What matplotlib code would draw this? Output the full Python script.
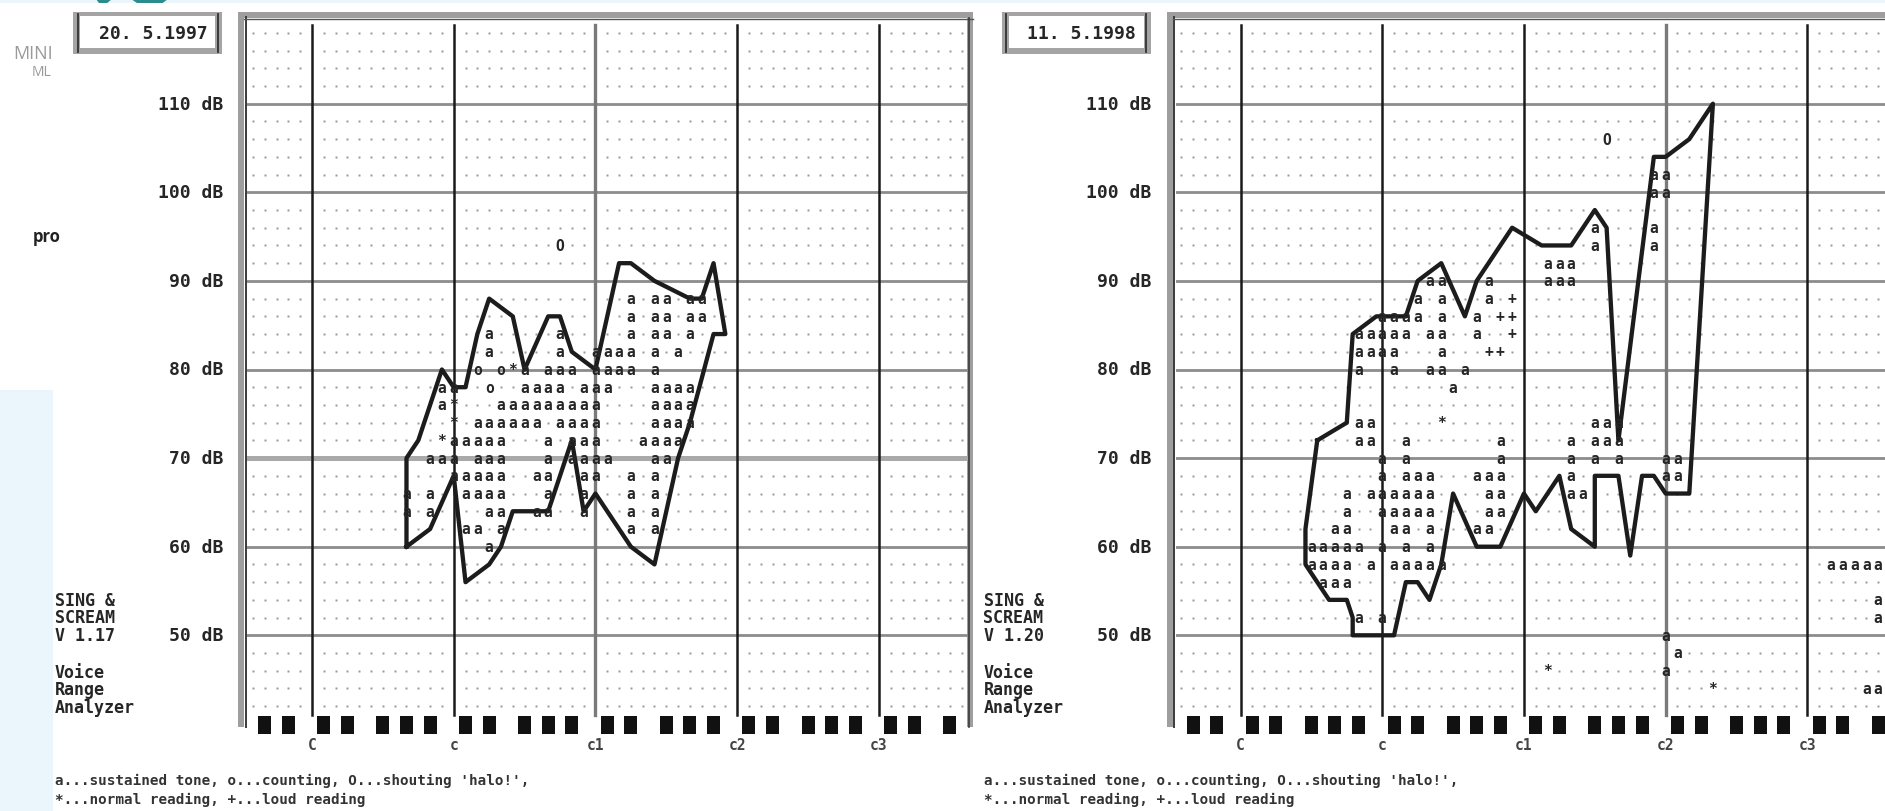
import math

import matplotlib
matplotlib.use("Agg")
from matplotlib import pyplot as plt
from matplotlib.patches import Rectangle, Polygon

W, H = 1885, 812
DPI = 100

# screen scale of the phonetogram screenshots (pixels)
PX_SEMI = 11.81      # one semitone
PX_DB = 8.86         # one dB
DB50_Y = 636.3       # row of the 50 dB line
RIGHT_SHIFT = 928.5  # second screenshot is the first one moved right

MONO = "DejaVu Sans Mono"
INK = "#262626"

octave_midi = [36, 48, 60, 72, 84]
octave_names = ["C", "c", "c1", "c2", "c3"]
db_ticks = [110, 100, 90, 80, 70, 60, 50]
black_keys = [1, 3, 6, 8, 10]
program_lines = ["SING &", "SCREAM"]
analyzer_lines = ["Voice", "Range", "Analyzer"]
legend_lines = [
    "a...sustained tone, o...counting, O...shouting 'halo!',",
    "*...normal reading, +...loud reading",
]

# session of 20.5.1997
left_date = "20. 5.1997"
left_version = "V 1.17"
left_contour_midi = [44, 44, 45, 47, 48, 49, 50, 51, 53, 54, 56, 57, 58, 60, 62, 63,
                     65, 68, 69, 70, 71, 70, 68, 67, 65, 63, 60, 59, 58, 56, 53, 52,
                     51, 49, 48, 46, 44]
left_contour_db = [60, 70, 72, 80, 78, 78, 84, 88, 86, 80, 86, 86, 82, 80, 92, 92,
                   90, 88, 88, 92, 84, 84, 74, 70, 58, 60, 66, 64, 72, 64, 64, 60,
                   58, 56, 68, 62, 60]
# (dB row, first semitone, characters one per semitone)
left_marks = [
    (94, 57, "O"),
    (88, 63, "a aa aa"),
    (86, 63, "a aa aa"),
    (84, 51, "a"), (84, 57, "a"), (84, 63, "a aa a"),
    (82, 51, "a"), (82, 57, "a"), (82, 60, "aaaa a a"),
    (80, 50, "o o*a aaa aaaa a"),
    (78, 47, "aa  o  aaaa aaa   aaaa"),
    (76, 47, "a*   aaaaaaaaa    aaaa"),
    (74, 48, "* aaaaaa aaaa    aaaa"),
    (72, 47, "*aaaaa   a aaa   aaaa"),
    (70, 46, "aaa aaa   a aaaa   aa"),
    (68, 48, "aaaaa  aa  aa  a a"),
    (66, 44, "a a  aaaa   a  a   a a"),
    (64, 44, "a a    aa  aa  a   a a"),
    (62, 49, "aa a"), (62, 63, "a a"),
    (60, 51, "a"),
]

# session of 11.5.1998
right_date = "11. 5.1998"
right_version = "V 1.20"
right_contour_midi = [42.5, 45, 45.5, 47.5, 50, 51, 53, 55, 56, 59, 61.5, 64, 66, 67,
                      68, 71, 72, 74, 76, 74, 72, 71, 70, 69, 68, 66, 66, 64, 63, 61,
                      60, 58, 56, 54, 53, 52, 51, 50, 49, 45.5, 45.5, 45, 43.5, 42.5,
                      41.5, 41.5, 42.5]
right_contour_db = [72, 74, 84, 86, 86, 90, 92, 86, 90, 96, 94, 94, 98, 96,
                    72, 104, 104, 106, 110, 66, 66, 68, 68, 59, 68, 68, 60, 62, 68, 64,
                    66, 60, 60, 66, 58, 54, 56, 56, 50, 50, 52, 54, 54, 56,
                    58, 62, 72]
right_marks = [
    (106, 67, "O"),
    (102, 71, "aa"), (100, 71, "aa"),
    (96, 66, "a"), (96, 71, "a"), (94, 66, "a"), (94, 71, "a"),
    (92, 62, "aaa"), (90, 62, "aaa"),
    (90, 52, "aa"), (90, 57, "a"),
    (88, 51, "a a"), (88, 57, "a +"),
    (86, 48, "aaaa"), (86, 53, "a"), (86, 56, "a ++"),
    (84, 46, "aaaaa aa  a  +"),
    (82, 46, "aaaa   a   ++"),
    (80, 46, "a  a  aa a"),
    (78, 54, "a"),
    (74, 53, "*"), (74, 46, "aa"), (74, 66, "aaa"),
    (72, 46, "aa"), (72, 50, "a"), (72, 58, "a"), (72, 64, "a aaa"),
    (70, 48, "a a"), (70, 58, "a"), (70, 64, "a a a   aa"),
    (68, 48, "a aaa   aaa"), (68, 64, "a"), (68, 72, "aa"),
    (66, 45, "a aaaaaa    aa"), (66, 64, "aa"),
    (64, 45, "a  aaaaa    aa"),
    (62, 44, "aa   aa a   aa"),
    (60, 42, "aaaaa a a a"),
    (58, 42, "aaaa a aaaaa"),
    (56, 43, "aaa"),
    (52, 46, "a a"),
    (50, 72, "a"), (48, 73, "a"), (46, 72, "a"), (46, 62, "*"), (44, 76, "*"),
    (58, 86, "aaaaa"), (54, 90, "a"), (52, 90, "a"), (44, 89, "aa"),
]

fig = plt.figure(figsize=(W / DPI, H / DPI), dpi=DPI)
fig.patch.set_facecolor("white")

page = fig.add_axes([0, 0, 1, 1], zorder=0)
page.set_xlim(0, W)
page.set_ylim(H, 0)
page.axis("off")

# surrounding web page
page.add_patch(Rectangle((0, 0), W, 4, color="#eaf6fc", lw=0))
page.add_patch(Rectangle((0, 391), 53, H - 391, color="#eaf6fc", lw=0))
page.add_patch(Polygon([(96, 0), (112, 0), (106, 5), (99, 4)], color="#2b8c8c", lw=0))
page.add_patch(Polygon([(131, 0), (168, 0), (160, 6), (140, 6)], color="#2b8c8c", lw=0))
page.text(13, 59, "MINI", family="Open Sans", fontsize=13, color="#9a9a9a", va="baseline")
page.text(32, 76, "ML", family="Open Sans", fontsize=10, color="#9a9a9a", va="baseline")
page.text(33, 242, "pro", family="Open Sans", weight="bold", fontsize=12, color="#222222",
          va="baseline")
page.add_patch(Rectangle((53, 4), 923, H - 4, color="white", lw=0))
page.add_patch(Rectangle((981, 4), W - 981, H - 4, color="white", lw=0))


def dos(x, y, s, size, color=INK, **kw):
    page.text(x, y, s, family=MONO, weight="bold", fontsize=size, color=color, **kw)


def draw_panel(dx, date, version, contour_midi, contour_db, marks, gray_octave,
               thick_db=None, right_frame=True):
    # frame bars
    page.add_patch(Rectangle((238 + dx, 13), 6, 715, color="#9e9e9e", lw=0))
    page.plot([245.5 + dx] * 2, [18, 728], color="#3a3a3a", lw=1.4)
    page.add_patch(Rectangle((238 + dx, 13), 735, 6, color="#9e9e9e", lw=0))
    page.plot([244 + dx, 973 + dx], [19.5, 19.5], color="#555555", lw=1.0)
    if right_frame:
        page.add_patch(Rectangle((967 + dx, 13), 6, 715, color="#9e9e9e", lw=0))
        page.plot([968.5 + dx] * 2, [19, 728], color="#3a3a3a", lw=1.2)

    # date box
    page.add_patch(Rectangle((73 + dx, 13), 149, 42, color="#a4a4a4", lw=0))
    page.add_patch(Rectangle((80 + dx, 17), 135, 32, color="white", lw=0))
    for xl in (77.5 + dx, 217.5 + dx):
        page.plot([xl, xl], [15, 53], color="#333333", lw=1.3)
    dos(153 + dx, 34, date, 13, ha="center", va="center")

    # dB labels
    for db in db_ticks:
        dos(223 + dx, DB50_Y - (db - 50) * PX_DB, f"{db} dB", 13, ha="right", va="center")

    # program info and legend
    for i, s in enumerate(program_lines + [version]):
        dos(55 + dx, 601 + i * 17.5, s, 12, va="center")
    for i, s in enumerate(analyzer_lines):
        dos(55 + dx, 673 + i * 17.5, s, 12, va="center")
    for i, s in enumerate(legend_lines):
        dos(55 + dx, 781 + i * 19, s, 10.3, color="#333333", va="center")

    # grid area in semitones (MIDI) and dB
    c_px = 312 + dx
    x0, x1 = 247 + dx, min(968 + dx, W)
    y_top, y_bot = 22, 716
    ax = fig.add_axes([x0 / W, 1 - y_bot / H, (x1 - x0) / W, (y_bot - y_top) / H], zorder=1)
    ax.patch.set_alpha(0)
    xlo = 36 + (x0 - c_px) / PX_SEMI
    xhi = 36 + (x1 - c_px) / PX_SEMI
    ylo = 50 + (DB50_Y - y_bot) / PX_DB
    yhi = 50 + (DB50_Y - y_top) / PX_DB
    ax.set_xlim(xlo, xhi)
    ax.set_ylim(ylo, yhi)
    ax.axis("off")

    occupied = {(start + i, db) for db, start, text in marks
                for i, ch in enumerate(text) if ch != " "}
    dot_x, dot_y = [], []
    for db in range(42, 120, 2):
        if db % 10 == 0:
            continue
        for m in range(math.ceil(xlo), math.floor(xhi) + 1):
            if m % 12 == 0 or (m, db) in occupied:
                continue
            dot_x.append(m)
            dot_y.append(db)
    ax.plot(dot_x, dot_y, "s", ms=1.9, color="#9a9a9a", mec="none")

    for db in db_ticks:
        if db == thick_db:
            ax.axhline(db, color="#a9a9a9", lw=3.6)
        else:
            ax.axhline(db, color="#8c8c8c", lw=2.0)
    top_line = 50 + (DB50_Y - 26) / PX_DB
    for m in octave_midi:
        col, lw = ("#7a7a7a", 2.4) if m == gray_octave else ("#1a1a1a", 1.8)
        ax.plot([m, m], [ylo, top_line], color=col, lw=lw, clip_on=False)

    # keyboard strip and octave names
    key_lo = 50 + (DB50_Y - 735) / PX_DB
    key_hi = 50 + (DB50_Y - 717) / PX_DB
    for m in range(math.ceil(xlo), math.floor(xhi) + 1):
        if m % 12 in black_keys:
            ax.add_patch(Rectangle((m - 0.55, key_lo), 1.1, key_hi - key_lo,
                                   color="#111111", lw=0, clip_on=False))
    name_y = 50 + (DB50_Y - 746) / PX_DB
    for m, name in zip(octave_midi, octave_names):
        ax.text(m, name_y, name, family=MONO, weight="bold", fontsize=10.5, color="#444444",
                ha="center", va="center", clip_on=False)

    ax.plot(contour_midi, contour_db, color="#1c1c1c", lw=3.1, solid_joinstyle="round")

    for db, start, text in marks:
        for i, ch in enumerate(text):
            if ch == " ":
                continue
            ax.text(start + i, db - 0.5, ch, family=MONO, weight="bold", fontsize=10.5,
                    color=INK, ha="center", va="baseline", clip_on=True)


draw_panel(0, left_date, left_version, left_contour_midi, left_contour_db, left_marks,
           gray_octave=60, thick_db=70)
draw_panel(RIGHT_SHIFT, right_date, right_version, right_contour_midi, right_contour_db,
           right_marks, gray_octave=72, right_frame=False)

fig.savefig("out.png", dpi=DPI)
